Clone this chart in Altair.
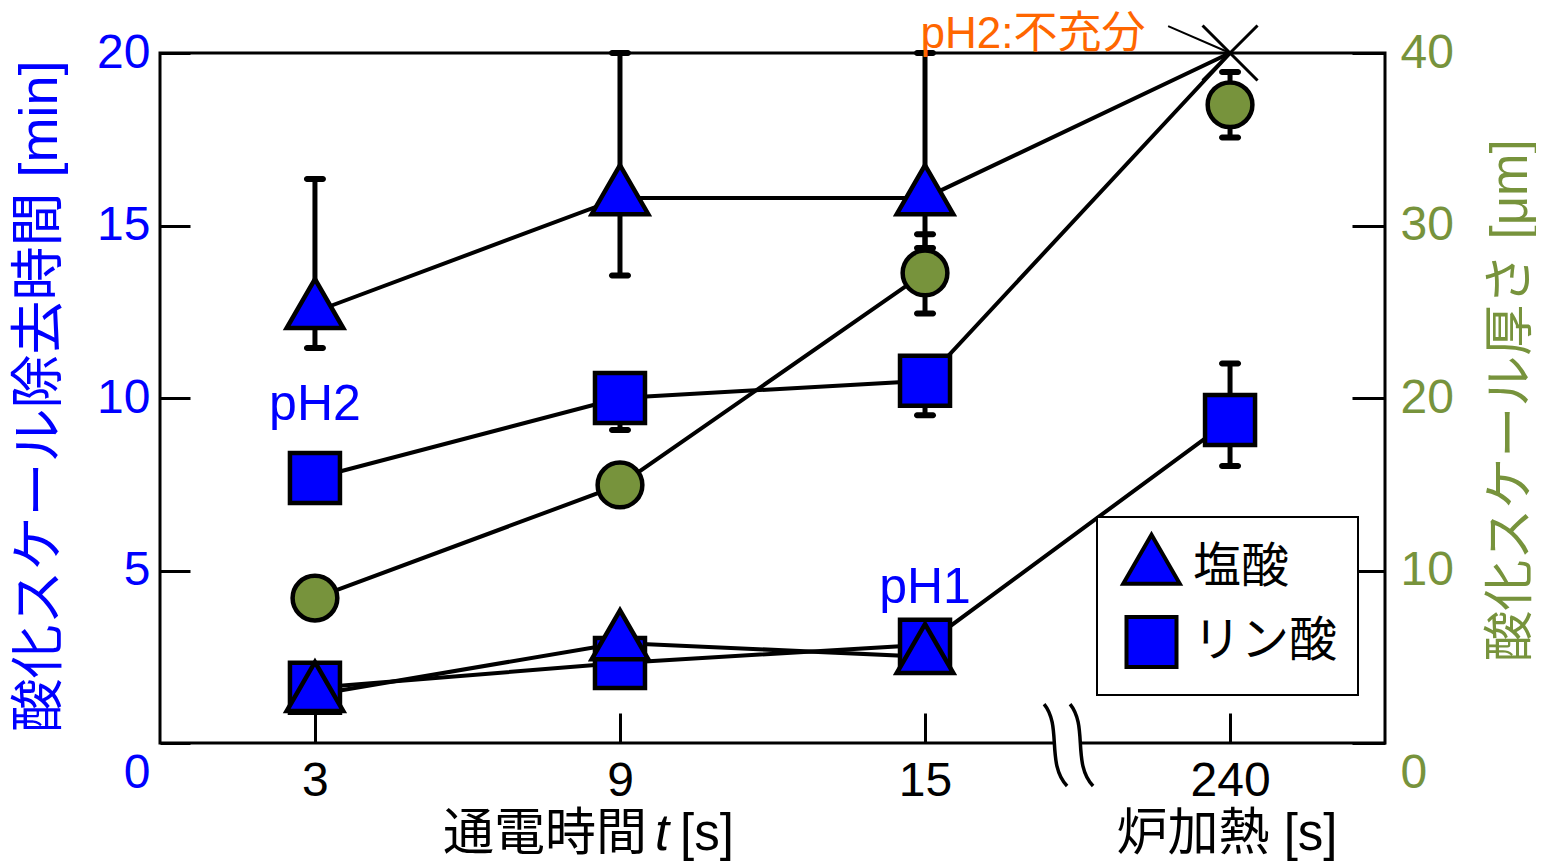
import altair as alt
import pandas as pd

# ---------------- data ----------------
X_LABELS = ["3", "9", "15", "240"]          # 通電時間 3, 9, 15 s ; 炉加熱 240 s
X_POS = [0, 1, 2, 3]

# 酸化スケール除去時間 [min]  -- pH2
HCL_PH2 = [12.5, 15.8, 15.8]
HCL_PH2_LO = [11.45, 13.55, 14.35]
HCL_PH2_HI = [16.35, 20.0, 20.0]
H3PO4_PH2 = [7.68, 10.0, 10.5]
H3PO4_PH2_LO = [None, 9.07, 9.5]
PH2_FURNACE = 20.0                            # pH2:不充分 (×) at 240 s

# pH1
HCL_PH1 = [1.4, 2.9, 2.5]
H3PO4_PH1 = [1.6, 2.32, 2.85, 9.36]
H3PO4_PH1_LO = [None, None, None, 8.03]
H3PO4_PH1_HI = [None, None, None, 11.0]

# 酸化スケール厚さ [μm]
THICK = [8.4, 14.96, 27.25, 37.0]
THICK_LO = [None, None, 24.9, 35.1]
THICK_HI = [None, None, 29.5, 38.9]

ACIDS = ["塩酸", "リン酸"]

BLUE = "#0000FF"
OLIVE = "#77933C"
ORANGE = "#FF6600"
FONT = "Liberation Sans, Noto Sans CJK JP"
NUM_FONT = "Liberation Sans"

TRI = "M0,-1.1547L-1,0.5774L1,0.5774Z"        # centroid-anchored triangle
XSHAPE = "M-1,-1L1,1M-1,1L1,-1"
BREAK = ("M-0.585,-0.95C-0.146,-0.41,-0.537,0.51,-0.024,1.05"
         "M0.049,-0.95C0.488,-0.41,0.097,0.51,0.610,1.05")
GAP = "M-0.32,-0.085L0.29,-0.085L0.29,0.085L-0.32,0.085Z"

# ---------------- tables ----------------
line_rows = []
def add_line(name, xs, ys):
    for x, y in zip(xs, ys):
        line_rows.append({"series": name, "x": x, "y": y})

add_line("hcl_ph2", X_POS, HCL_PH2 + [PH2_FURNACE])
add_line("h3po4_ph2", X_POS, H3PO4_PH2 + [PH2_FURNACE])
add_line("hcl_ph1", X_POS[:3], HCL_PH1)
add_line("h3po4_ph1", X_POS, H3PO4_PH1)
lines_df = pd.DataFrame(line_rows)


def err_rows(values, lo, hi):
    rules, caps = [], []
    for i, v in enumerate(values):
        l = lo[i] if lo else None
        h = hi[i] if hi else None
        if l is None and h is None:
            continue
        rules.append({"x": X_POS[i], "lo": l if l is not None else v,
                      "hi": h if h is not None else v})
        if l is not None:
            caps.append({"x": X_POS[i], "y": l})
        if h is not None:
            caps.append({"x": X_POS[i], "y": h})
    return rules, caps

r1, c1 = err_rows(HCL_PH2, HCL_PH2_LO, HCL_PH2_HI)
r2, c2 = err_rows(H3PO4_PH2, H3PO4_PH2_LO, None)
r3, c3 = err_rows(H3PO4_PH1, H3PO4_PH1_LO, H3PO4_PH1_HI)
rules_df = pd.DataFrame(r1 + r2 + r3)
caps_df = pd.DataFrame(c1 + c2 + c3)

pt_rows = []
for i, v in enumerate(H3PO4_PH2):
    pt_rows.append({"x": X_POS[i], "y": v, "acid": "リン酸"})
for i, v in enumerate(H3PO4_PH1):
    pt_rows.append({"x": X_POS[i], "y": v, "acid": "リン酸"})
for i, v in enumerate(HCL_PH2):
    pt_rows.append({"x": X_POS[i], "y": v, "acid": "塩酸"})
for i, v in enumerate(HCL_PH1):
    pt_rows.append({"x": X_POS[i], "y": v, "acid": "塩酸"})
points_df = pd.DataFrame(pt_rows)

thick_line_df = pd.DataFrame({"x": X_POS[:3], "y": THICK[:3]})
tr, tc = err_rows(THICK, THICK_LO, THICK_HI)
thick_rules_df = pd.DataFrame(tr)
thick_caps_df = pd.DataFrame(tc)
thick_pts_df = pd.DataFrame({"x": X_POS, "y": THICK})

xmark_df = pd.DataFrame({"x": [3], "y": [PH2_FURNACE]})
leader_df = pd.DataFrame({"x": [2.797, 3.0], "y": [20.78, PH2_FURNACE]})
blue_txt_df = pd.DataFrame({"x": [0.0, 2.0], "y": [9.8, 4.5], "text": ["pH2", "pH1"]})
orange_txt_df = pd.DataFrame({"x": [2.354], "y": [20.53], "text": ["pH2:不充分"]})
title_df = pd.DataFrame({"x": [0.754, 1.285, 2.99], "y": [-2.67, -2.67, -2.67],
                         "text": ["通電時間", "[s]", "炉加熱 [s]"]})
ital_df = pd.DataFrame({"x": [1.138], "y": [-2.67], "text": ["t"]})
break_df = pd.DataFrame({"x": [2.469], "y": [0.0]})

# ---------------- scales / axes ----------------
xscale = alt.Scale(domain=[-0.508, 3.508], nice=False, zero=False)
lscale = alt.Scale(domain=[0, 20], nice=False, zero=False)
rscale = alt.Scale(domain=[0, 40], nice=False, zero=False)

label_expr = "[" + ",".join("'%s'" % s for s in X_LABELS) + "][datum.value]"
xaxis = alt.Axis(values=X_POS, labelExpr=label_expr, labelFont=NUM_FONT, labelFontSize=48,
                 labelColor="black", labelPadding=44, tickSize={"expr": "-30"}, tickWidth=3,
                 tickColor="black", domain=False, grid=False, title=None)
zero_off = {"condition": {"test": "datum.value === 0", "value": 30}, "value": 0}
laxis = alt.Axis(orient="left", values=[0, 5, 10, 15, 20], labelFont=NUM_FONT, labelFontSize=48,
                 labelColor=BLUE, labelPadding=40, labelOffset=zero_off,
                 tickSize={"expr": "-30"}, tickWidth=3, tickColor="black", domain=False, grid=False,
                 title="酸化スケール除去時間 [min]", titleFont=FONT, titleFontSize=54,
                 titleFontWeight="normal", titleColor=BLUE, titleAngle=270, titleX=-120,
                 titleY=343, titleAlign="center", titleBaseline="middle")
raxis = alt.Axis(orient="right", values=[0, 10, 20, 30, 40], labelFont=NUM_FONT, labelFontSize=48,
                 labelColor=OLIVE, labelPadding=48, labelOffset=zero_off,
                 tickSize={"expr": "-33"}, tickWidth=3, tickColor="black", domain=False, grid=False,
                 title="酸化スケール厚さ [μm]", titleFont=FONT, titleFontSize=51,
                 titleFontWeight="normal", titleColor=OLIVE, titleAngle=270, titleX=126,
                 titleY=347, titleAlign="center", titleBaseline="middle")

X = alt.X("x:Q", scale=xscale, axis=xaxis)
YL = alt.Y("y:Q", scale=lscale, axis=laxis)
YR = alt.Y("y:Q", scale=rscale, axis=raxis)

legend = alt.Legend(title=None, orient="none", legendX=937, legendY=464, direction="vertical",
                    labelFont=FONT, labelFontSize=48, labelColor="black", labelOffset=11,
                    symbolOffset=4, labelLimit=400, padding=20, rowPadding=17,
                    symbolStrokeWidth=4, symbolStrokeColor="black", symbolFillColor=BLUE,
                    strokeColor="black", fillColor="white")

# ---------------- left (min) layers ----------------
lines = alt.Chart(lines_df).mark_line(color="black", strokeWidth=4).encode(
    x=X, y=YL, detail="series:N", order="x:Q")
rules = alt.Chart(rules_df).mark_rule(color="black", strokeWidth=5).encode(
    x=X, y=alt.Y("lo:Q", scale=lscale, axis=laxis), y2="hi:Q")
caps = alt.Chart(caps_df).mark_tick(orient="horizontal", size=22, thickness=6, color="black",
                                    opacity=1, cornerRadius=3).encode(x=X, y=YL)
pts = alt.Chart(points_df).mark_point(filled=True, color=BLUE, strokeWidth=4.5,
                                      opacity=1).encode(
    x=X, y=YL,
    shape=alt.Shape("acid:N", scale=alt.Scale(domain=ACIDS, range=[TRI, "square"]), legend=legend),
    size=alt.Size("acid:N", scale=alt.Scale(domain=ACIDS, range=[3200, 2500]), legend=legend),
    stroke=alt.Stroke("acid:N", scale=alt.Scale(domain=ACIDS, range=["black", "black"]),
                      legend=legend),
)
xmark = alt.Chart(xmark_df).mark_point(shape=XSHAPE, size=3025, filled=False, color="black",
                                       strokeWidth=3, opacity=1).encode(x=X, y=YL)
leader = alt.Chart(leader_df).mark_line(color="black", strokeWidth=2).encode(x=X, y=YL)
blue_txt = alt.Chart(blue_txt_df).mark_text(font=FONT, fontSize=50, color=BLUE,
                                            baseline="middle", align="center").encode(
    x=X, y=YL, text="text:N")
orange_txt = alt.Chart(orange_txt_df).mark_text(font=FONT, fontSize=44, color=ORANGE,
                                                baseline="middle", align="center").encode(
    x=X, y=YL, text="text:N")
titles = alt.Chart(title_df).mark_text(font=FONT, fontSize=51, color="black",
                                       baseline="middle", align="center").encode(
    x=X, y=YL, text="text:N")
ital = alt.Chart(ital_df).mark_text(font=NUM_FONT, fontSize=51, fontStyle="italic", color="black",
                                    baseline="middle", align="center").encode(
    x=X, y=YL, text="text:N")
gap = alt.Chart(break_df).mark_point(shape=GAP, size=6724, filled=True, color="white",
                                     strokeWidth=0, opacity=1).encode(x=X, y=YL)
brk = alt.Chart(break_df).mark_point(shape=BREAK, size=6724, filled=False, color="black",
                                     strokeWidth=3.5, opacity=1).encode(x=X, y=YL)

left = alt.layer(lines, leader, rules, caps, pts, xmark, blue_txt, orange_txt, titles, ital,
                 gap, brk)

# ---------------- right (μm) layers ----------------
tline = alt.Chart(thick_line_df).mark_line(color="black", strokeWidth=4).encode(
    x=X, y=YR, order="x:Q")
trules = alt.Chart(thick_rules_df).mark_rule(color="black", strokeWidth=5).encode(
    x=X, y=alt.Y("lo:Q", scale=rscale, axis=raxis), y2="hi:Q")
tcaps = alt.Chart(thick_caps_df).mark_tick(orient="horizontal", size=22, thickness=6,
                                           color="black", opacity=1, cornerRadius=3).encode(
    x=X, y=YR)
tpts = alt.Chart(thick_pts_df).mark_point(filled=True, color=OLIVE, stroke="black",
                                          strokeWidth=4.5, size=2000, shape="circle",
                                          opacity=1).encode(x=X, y=YR)
right = alt.layer(tline, trules, tcaps, tpts)

chart = (
    alt.layer(left, right)
    .resolve_scale(y="independent")
    .properties(width=1225, height=690,
                autosize=alt.AutoSizeParams(type="none"),
                padding={"left": 152, "top": 45, "right": 151, "bottom": 118},
                background="white")
    .configure_view(stroke="black", strokeWidth=3)
    .configure_legend(strokeWidth=2)
)

chart.save("out.html", embed_options={"renderer": "svg", "actions": False})
